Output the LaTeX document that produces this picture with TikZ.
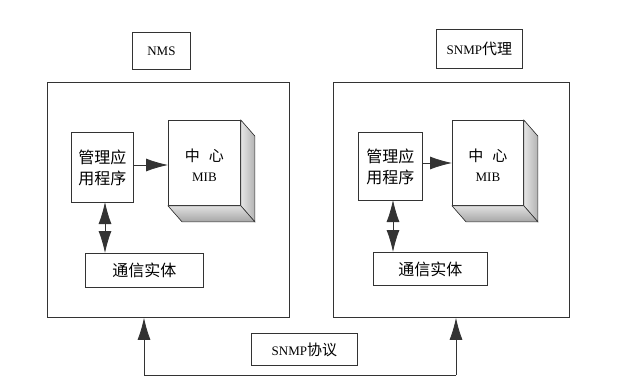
\documentclass[tikz,border=0pt]{standalone}
\usepackage{fontspec}
\setmainfont{Liberation Serif}
\newfontfamily\cjk{Noto Sans CJK SC}
\usetikzlibrary{arrows.meta,calc}
\begin{document}
\begin{tikzpicture}[x=1pt,y=-1pt,
  box/.style={draw=black!80, line width=0.8pt, inner sep=0pt, anchor=north west, fill=white},
  tip/.tip={Latex[length=22pt,width=13pt]},
  arr/.style={-tip, draw=black!80, line width=0.8pt},
  dbl/.style={tip-tip, draw=black!80, line width=0.8pt},
  cn/.style={font=\cjk\fontsize{16}{21}\selectfont, align=center},
  lat/.style={font=\fontsize{13}{15}\selectfont},
  side/.style={draw=black!80, line width=0.6pt, left color=black!10, right color=black!30},
  bottomface/.style={draw=black!80, line width=0.6pt, top color=black!12, bottom color=black!35}]
\fill[white] (0,0) rectangle (630,389);
\useasboundingbox (0,0) rectangle (630,389);

% ---------- left: NMS ----------
\node[box, lat, minimum width=58pt, minimum height=37pt] (nms) at (132,32) {NMS};
\node[box, minimum width=242pt, minimum height=235pt] (lb) at (47,82) {};
\node[box, cn, minimum width=62pt, minimum height=70pt] (lapp) at (71,132) {管理应\\用程序};
\node[box, minimum width=72pt, minimum height=85pt] (lmib) at (168,120) {};
\fill[side] (lmib.north east) -- ($(lmib.north east)+(14,16)$) -- ($(lmib.south east)+(14,16)$) -- (lmib.south east) -- cycle;
\fill[bottomface] (lmib.south west) -- (lmib.south east) -- ($(lmib.south east)+(14,16)$) -- ($(lmib.south west)+(14,16)$) -- cycle;
\node[align=center, font=\fontsize{13}{20}\selectfont] (lmibt) at ($(lmib.center)+(0,2)$) {{\cjk\fontsize{15}{20}\selectfont 中\hspace{0.6em}心}\\MIB};
\node[box, cn, minimum width=118pt, minimum height=34pt] (lcomm) at (85,253) {通信实体};
\coordinate (la1) at (105,202);
\coordinate (la2) at (105,253);
\draw[arr] (lapp.east |- 0,165) -- (lmib.west |- 0,165);
\draw[dbl] (la1) -- (la2);

% ---------- right: SNMP agent ----------
\node[box, minimum width=86pt, minimum height=39pt] (agent) at (436,29) {\fontsize{13}{15}\selectfont SNMP{\cjk\fontsize{15}{18}\selectfont 代理}};
\node[box, minimum width=236pt, minimum height=235pt] (rb) at (333,82) {};
\node[box, cn, minimum width=64pt, minimum height=68pt] (rapp) at (358,132) {管理应\\用程序};
\node[box, minimum width=71pt, minimum height=85pt] (rmib) at (452,120) {};
\fill[side] (rmib.north east) -- ($(rmib.north east)+(14,16)$) -- ($(rmib.south east)+(14,16)$) -- (rmib.south east) -- cycle;
\fill[bottomface] (rmib.south west) -- (rmib.south east) -- ($(rmib.south east)+(14,16)$) -- ($(rmib.south west)+(14,16)$) -- cycle;
\node[align=center, font=\fontsize{13}{20}\selectfont] (rmibt) at ($(rmib.center)+(0,2)$) {{\cjk\fontsize{15}{20}\selectfont 中\hspace{0.6em}心}\\MIB};
\node[box, cn, minimum width=114pt, minimum height=33pt] (rcomm) at (373,252) {通信实体};
\coordinate (ra1) at (393,200);
\coordinate (ra2) at (393,252);
\draw[arr] (rapp.east |- 0,163) -- (rmib.west |- 0,163);
\draw[dbl] (ra1) -- (ra2);

% ---------- bottom: SNMP protocol ----------
\coordinate (bl) at (144,375);
\coordinate (br) at (456,375);
\draw[line width=0.8pt, draw=black!80] (bl) -- (br);
\draw[arr] (bl) -- (bl |- lb.south);
\draw[arr] (br) -- (br |- rb.south);
\node[box, minimum width=106pt, minimum height=32pt] (proto) at (251,333) {\fontsize{13}{15}\selectfont SNMP{\cjk\fontsize{15}{18}\selectfont 协议}};
\end{tikzpicture}
\end{document}
